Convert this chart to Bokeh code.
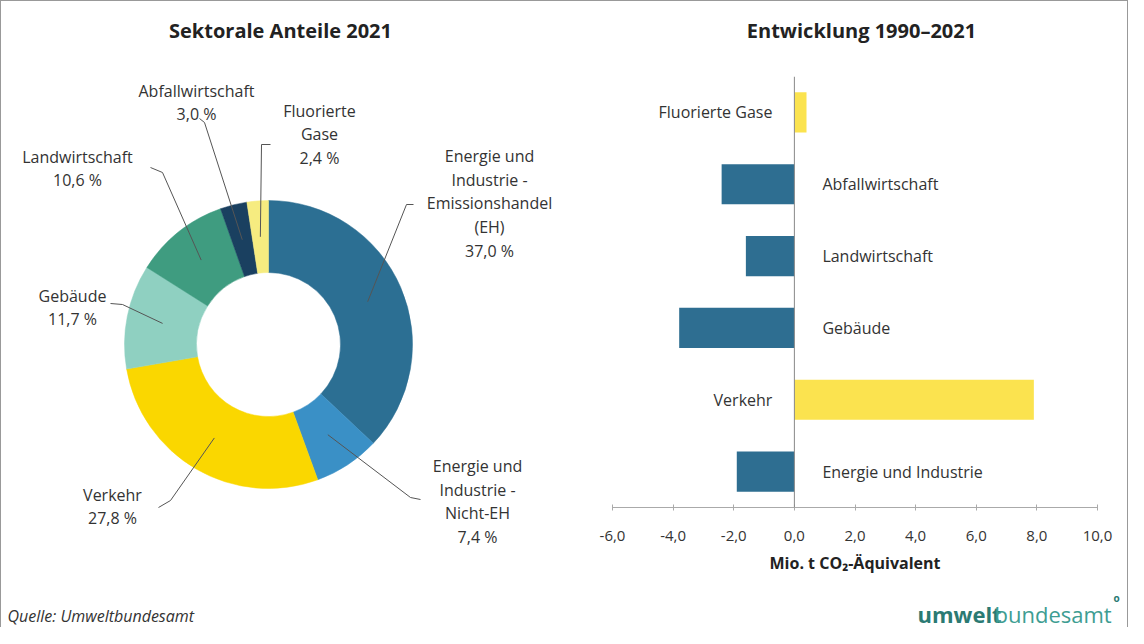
import math
from bokeh.plotting import figure
from bokeh.models import Range1d, ColumnDataSource, FactorRange, Span, CustomJSTickFormatter, FixedTicker
from bokeh.layouts import row, column
from bokeh.core.properties import value
from bokeh.embed import file_html
from bokeh.resources import INLINE

# ---------------- data ----------------
pie_labels = ["Energie und\nIndustrie -\nEmissionshandel\n(EH)", "Energie und\nIndustrie -\nNicht-EH",
              "Verkehr", "Gebäude", "Landwirtschaft", "Abfallwirtschaft", "Fluorierte\nGase"]
pie_shares = [37.0, 7.4, 27.8, 11.7, 10.6, 3.0, 2.4]
pie_colors = ["#2c6f93", "#3a90c6", "#fad700", "#8fd0c1", "#3f9c80", "#1a4060", "#f6ec80"]

bar_sectors = ["Fluorierte Gase", "Abfallwirtschaft", "Landwirtschaft", "Gebäude", "Verkehr", "Energie und Industrie"]
bar_changes = [0.4, -2.4, -1.6, -3.8, 7.9, -1.9]
bar_colors = ["#fbe34f", "#2e6e91", "#2e6e91", "#2e6e91", "#fbe34f", "#2e6e91"]
x_ticks = [-6, -4, -2, 0, 2, 4, 6, 8, 10]

FONT = value("Open Sans")
W1, W2, H = 571, 555, 626
H0 = 75
H3 = 44
H2 = H - H3 - H0


def fx(x):
    return x - 9


def fy(y):
    return 635 - y


def strip(height):
    f = figure(width=W2, height=height, x_range=Range1d(580, 580 + W2), y_range=Range1d(0, height),
               output_backend="svg", toolbar_location=None, min_border=0)
    f.frame_align = False
    f.axis.visible = False
    f.grid.visible = False
    f.outline_line_color = None
    return f


# ---------------- donut ----------------
p1 = figure(width=W1, height=H, x_range=Range1d(0, W1), y_range=Range1d(0, H),
            output_backend="svg", toolbar_location=None, min_border=0)
p1.frame_align = False
p1.axis.visible = False
p1.grid.visible = False
p1.outline_line_color = None

cx, cy = fx(276), fy(352)
r_out, r_in = 144, 72
total = sum(pie_shares)
starts, ends, mids = [], [], []
cum = 0.0
for s in pie_shares:
    a0 = math.pi / 2 - 2 * math.pi * (cum + s) / total
    a1 = math.pi / 2 - 2 * math.pi * cum / total
    starts.append(a0)
    ends.append(a1)
    mids.append((a0 + a1) / 2)
    cum += s

src = ColumnDataSource(dict(start=starts, end=ends, color=pie_colors))
p1.annular_wedge(x=cx, y=cy, inner_radius=r_in, outer_radius=r_out, start_angle="start",
                 end_angle="end", direction="anticlock", fill_color="color", line_color="color",
                 line_width=0.5, source=src)

# label placements (layout, reference pixel coords)
label_pos = [(497, 211), (485, 509), (120, 514), (80, 315), (85, 176), (204, 110), (327, 142)]
leader_path = [
    [(414, 212), (421, 212)],
    [(418, 505), (428, 507)],
    [(178, 508), (166, 515)],
    [(130, 312), (118, 311)],
    [(170, 180), (158, 175)],
    [(212, 130), (207, 126)],
    [(269, 152), (278, 152)],
]
r_mid = (r_in + r_out) / 2
xs, ys = [], []
for m, path in zip(mids, leader_path):
    px = [cx + r_mid * math.cos(m)] + [fx(p[0]) for p in path]
    py = [cy + r_mid * math.sin(m)] + [fy(p[1]) for p in path]
    xs.append(px)
    ys.append(py)
p1.multi_line(xs=xs, ys=ys, line_color="#555555", line_width=1)

texts = [f"{l}\n{s:.1f}".replace(".", ",") + " %" for l, s in zip(pie_labels, pie_shares)]
p1.text(x=[fx(p[0]) for p in label_pos], y=[fy(p[1]) for p in label_pos], text=texts,
        text_align="center", text_baseline="middle", text_font=FONT, text_font_size="16px",
        text_line_height=1.08, text_color="#333333")

p1.text(x=[fx(288)], y=[fy(38)], text=["Sektorale Anteile 2021"], text_align="center",
        text_baseline="middle", text_font=FONT, text_font_size="20px", text_font_style="bold",
        text_color="#222222")
p1.text(x=[6], y=[12], text=["Quelle: Umweltbundesamt"], text_align="left",
        text_baseline="alphabetic", text_font=FONT, text_font_size="16px", text_font_style="italic",
        text_color="#333333")

# ---------------- title strip ----------------
p0 = strip(H0)
p0.text(x=[869], y=[H0 - (38 - 9)], text=["Entwicklung 1990–2021"], text_align="center",
        text_baseline="middle", text_font=FONT, text_font_size="20px", text_font_style="bold",
        text_color="#222222")

# ---------------- bars ----------------
p2 = figure(width=W2, height=H2, x_range=Range1d(-6, 10),
            y_range=FactorRange(factors=list(reversed(bar_sectors)), range_padding=0),
            output_backend="svg", toolbar_location=None,
            min_border_left=40, min_border_right=30, min_border_top=0, min_border_bottom=76)
p2.frame_align = False
p2.grid.visible = False
p2.outline_line_color = None
p2.yaxis.visible = False

bsrc = ColumnDataSource(dict(
    sector=bar_sectors, change=bar_changes, color=bar_colors,
    align=["right" if v > 0 else "left" for v in bar_changes],
    off=[-22 if v > 0 else 28 for v in bar_changes],
))
p2.hbar(y="sector", left=0, right="change", height=0.56, fill_color="color", line_color=None, source=bsrc)
p2.add_layout(Span(location=0, dimension="height", line_color="#888888", line_width=1))
p2.text(x=0, y="sector", text="sector", x_offset="off", text_align="align", text_baseline="middle",
        text_font=FONT, text_font_size="16px", text_color="#333333", source=bsrc)

xa = p2.xaxis[0]
xa.ticker = FixedTicker(ticks=x_ticks)
xa.formatter = CustomJSTickFormatter(code="return tick.toFixed(1).replace('.', ',');")
xa.minor_tick_line_color = None
xa.major_tick_in = 3
xa.major_tick_out = 3
xa.axis_line_color = "#aaaaaa"
xa.major_tick_line_color = "#aaaaaa"
xa.major_label_text_font = "Open Sans"
xa.major_label_text_font_size = "15px"
xa.major_label_text_color = "#333333"
xa.major_label_standoff = 20
xa.axis_label = "Mio. t CO₂-Äquivalent"
xa.axis_label_text_font = "Open Sans"
xa.axis_label_text_font_size = "16px"
xa.axis_label_text_font_style = "bold"
xa.axis_label_text_color = "#222222"
xa.axis_label_standoff = 8

# ---------------- logo strip ----------------
p3 = strip(H3)
p3.text(x=[925], y=[14], text=["umwelt"], text_align="left", text_baseline="alphabetic",
        text_font=FONT, text_font_size="22px", text_font_style="bold", text_color="#2b7a73")
p3.text(x=[1002], y=[14], text=["bundesamt"], text_align="left", text_baseline="alphabetic",
        text_font=FONT, text_font_size="22px", text_color="#3e9d92")
p3.text(x=[1121], y=[30], text=["o"], text_align="left", text_baseline="middle",
        text_font=FONT, text_font_size="10px", text_font_style="bold", text_color="#2b7a73")

layout = row(p1, column(p0, p2, p3), styles={"border-top": "1px solid #999999",
                                             "border-left": "1px solid #999999",
                                             "border-right": "1px solid #999999"})
open("out.html", "w").write(file_html(layout, INLINE))
